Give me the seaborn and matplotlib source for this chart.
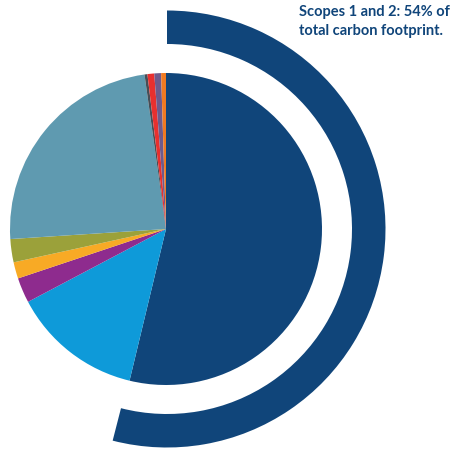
import matplotlib
matplotlib.use("Agg")
import matplotlib.pyplot as plt
import seaborn as sns

sns.set_theme(style="white")
plt.rcParams['font.family'] = ['Lato', 'DejaVu Sans']

# Data (percent of total carbon footprint)
categories = ["Scopes 1 and 2", "Category A", "Category B", "Category C", "Category D",
              "Category E", "Category F", "Category G", "Category H", "Category I"]
values = [53.7, 13.5, 2.6, 1.7, 2.4, 23.8, 0.3, 0.7, 0.7, 0.5]
colors = ["#10457A", "#0E9AD9", "#8E2B8E", "#F8AA25", "#9BA13A",
          "#5F9AB0", "#474E57", "#E8302F", "#6E5A8C", "#F07A22"]
scope_share = [54, 46]
label_text = "Scopes 1 and 2: 54% of\ntotal carbon footprint."

W = H = 453
fig = plt.figure(figsize=(W / 100, H / 100), dpi=100)
ax = fig.add_axes([0, 0, 1, 1])

cx, cy = 166, H - 229

ax.pie(values, colors=colors, startangle=90, counterclock=False,
       center=(cx, cy), radius=156, frame=True,
       wedgeprops=dict(linewidth=0))

ax.pie(scope_share, colors=["#10457A", "none"], startangle=90, counterclock=False,
       center=(cx + 1, cy), radius=218.5, frame=True,
       wedgeprops=dict(width=33.5, linewidth=0))

ax.set_xlim(0, W)
ax.set_ylim(0, H)
ax.set_aspect("equal")
ax.axis("off")

t = ax.text(299, H - 5, label_text, ha="left", va="top", fontsize=10.5,
            fontweight="bold", color="#10457A", linespacing=1.45)

fig.savefig("out.png", dpi=100)
